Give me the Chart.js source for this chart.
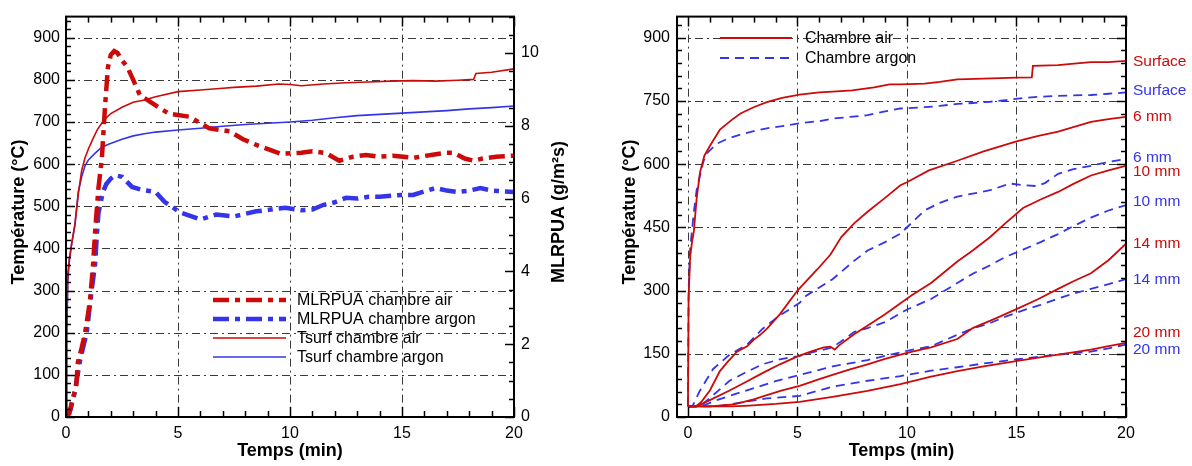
<!DOCTYPE html>
<html><head><meta charset="utf-8">
<script src="https://cdn.jsdelivr.net/npm/chart.js@4.4.1/dist/chart.umd.min.js"></script>
<style>
html,body{margin:0;padding:0;background:#fff;overflow:hidden;}
#wrap{position:relative;width:1192px;height:466px;background:#fff;}
canvas{position:absolute;top:0;}
</style></head><body>
<div id="wrap">
<canvas id="c1" width="590" height="466" style="left:0px"></canvas>
<canvas id="c2" width="602" height="466" style="left:590px"></canvas>
</div>
<script>
// ---------------- DATA: left chart ----------------
const xTickLabels = [0, 5, 10, 15, 20];
const tempTicksLeft = [0, 100, 200, 300, 400, 500, 600, 700, 800, 900];
const mlrTicks = [0, 2, 4, 6, 8, 10];
const tempTicksRight = [0, 150, 300, 450, 600, 750, 900];

const tsurfAirT = [0, 0.03, 0.08, 0.15, 0.25, 0.4, 0.55, 0.7, 0.85, 1.0, 1.2, 1.4, 1.7, 2.0, 2.5, 3.0, 3.5, 4.0, 5.0, 6.0, 7.0, 7.5, 8.5, 9.5, 10.0, 10.5, 11.5, 12.5, 13.5, 14.5, 15.5, 16.5, 17.5, 18.2, 18.3, 19.0, 20.0];
const tsurfAirV = [20, 200, 340, 375, 410, 457, 530, 585, 615, 636, 660, 682, 705, 720, 735, 747, 752, 760, 772, 776, 780, 782, 785, 790, 789, 786, 790, 793, 795, 797, 798, 797, 799, 801, 815, 818, 826];

const tsurfArgonT = [0, 0.03, 0.08, 0.15, 0.25, 0.4, 0.55, 0.7, 0.85, 1.0, 1.3, 1.6, 1.9, 2.5, 3.0, 3.5, 4.0, 5.0, 6.0, 7.0, 8.0, 9.0, 10.0, 11.0, 12.0, 13.0, 14.0, 15.0, 16.0, 17.0, 18.0, 19.0, 20.0];
const tsurfArgonV = [20, 180, 320, 370, 410, 457, 534, 570, 596, 610, 626, 640, 647, 659, 667, 672, 676, 681, 685, 690, 694, 697, 700, 704, 710, 715, 718, 721, 724, 727, 731, 734, 738];

const mlrAirT = [0, 0.15, 0.3, 0.45, 0.53, 0.7, 0.85, 1.0, 1.07, 1.2, 1.3, 1.45, 1.6, 1.74, 1.87, 2.0, 2.15, 2.3, 2.5, 2.75, 2.95, 3.3, 3.9, 4.6, 5.5, 6.4, 7.3, 7.9, 8.6, 9.6, 10.5, 11.0, 11.6, 12.2, 12.8, 13.4, 14.0, 14.6, 15.5, 16.3, 17.0, 17.3, 17.8, 18.2, 18.6, 19.2, 20.0];
const mlrAirV = [0, 0.1, 0.5, 0.8, 1.5, 1.9, 2.3, 2.9, 3.2, 4.1, 5.1, 6.3, 7.1, 8.5, 9.6, 9.95, 10.05, 10.0, 9.8, 9.6, 9.33, 8.84, 8.6, 8.33, 8.25, 7.93, 7.85, 7.63, 7.45, 7.23, 7.26, 7.3, 7.25, 7.04, 7.15, 7.2, 7.15, 7.18, 7.12, 7.2, 7.26, 7.26, 7.1, 7.04, 7.1, 7.15, 7.18];

const mlrArgonT = [0, 0.2, 0.4, 0.62, 0.93, 1.15, 1.3, 1.38, 1.45, 1.55, 1.65, 1.8, 2.0, 2.2, 2.5, 2.95, 3.4, 4.0, 4.4, 5.1, 6.0, 6.7, 7.5, 8.5, 9.8, 10.5, 11.0, 11.5, 12.0, 12.5, 13.0, 13.5, 14.0, 14.5, 15.0, 15.5, 16.0, 16.5, 17.0, 17.5, 18.0, 18.5, 19.0, 19.5, 20.0];
const mlrArgonV = [0, 0.2, 0.73, 1.53, 2.34, 3.5, 4.2, 5.03, 5.6, 5.9, 6.18, 6.4, 6.55, 6.64, 6.6, 6.32, 6.24, 6.18, 5.91, 5.62, 5.43, 5.56, 5.51, 5.65, 5.75, 5.68, 5.7, 5.83, 5.9, 6.02, 6.0, 6.05, 6.05, 6.08, 6.1, 6.1, 6.2, 6.29, 6.22, 6.18, 6.22, 6.29, 6.22, 6.2, 6.18];

// ---------------- DATA: right chart ----------------
const surfAirT = [0, 0.03, 0.1, 0.2, 0.27, 0.4, 0.55, 0.75, 1.0, 1.46, 2.0, 2.4, 3.0, 3.6, 4.3, 5.1, 6.0, 6.6, 7.5, 8.5, 9.2, 9.7, 10.8, 11.5, 12.3, 13.5, 15.0, 15.7, 15.75, 16.9, 17.5, 18.4, 19.2, 20.0];
const surfAirV = [25, 280, 380, 420, 441, 520, 580, 620, 643, 682, 705, 720, 735, 747, 757, 765, 770, 772, 775, 782, 789, 789, 791, 795, 801, 803, 805, 806, 833, 835, 838, 842, 842, 845];
const surfArgonT = [0, 0.03, 0.1, 0.2, 0.27, 0.4, 0.55, 0.7, 0.85, 1.3, 1.8, 2.4, 3.0, 3.6, 4.3, 5.1, 6.0, 6.6, 7.4, 8.2, 9.0, 9.7, 10.8, 11.5, 12.3, 13.0, 13.8, 14.5, 15.3, 16.1, 16.9, 17.6, 18.4, 19.2, 20.0];
const surfArgonV = [25, 300, 400, 450, 487, 540, 573, 605, 625, 648, 660, 670, 678, 685, 690, 697, 702, 708, 712, 716, 725, 732, 735, 738, 743, 745, 748, 752, 757, 760, 762, 763, 764, 767, 770];

const mm6AirT = [0, 0.35, 0.6, 1.0, 1.46, 1.8, 2.24, 2.7, 3.0, 3.3, 3.6, 4.2, 5.0, 5.9, 6.5, 7.0, 7.6, 8.2, 9.0, 9.7, 10.0, 11.0, 12.3, 13.5, 15.0, 16.0, 16.9, 18.4, 19.2, 20.0];
const mm6AirV = [25, 25, 35, 63, 109, 130, 155, 168, 183, 195, 209, 244, 300, 350, 385, 427, 460, 487, 520, 550, 557, 585, 608, 630, 654, 667, 677, 700, 707, 712];
const mm6ArgonT = [0, 0.2, 0.55, 1.15, 1.9, 2.7, 3.4, 4.2, 5.1, 5.4, 6.6, 7.6, 8.2, 9.0, 9.7, 10.2, 10.8, 11.5, 12.3, 13.0, 13.8, 14.7, 15.3, 15.9, 16.3, 16.9, 17.6, 18.4, 19.2, 20.0];
const mm6ArgonV = [25, 25, 63, 114, 148, 172, 209, 241, 271, 288, 327, 371, 395, 415, 435, 460, 490, 508, 523, 530, 538, 554, 550, 548, 555, 577, 588, 596, 605, 612];

const mm10AirT = [0, 0.4, 1.0, 1.9, 2.6, 3.4, 4.2, 5.0, 5.6, 6.2, 6.5, 6.7, 6.9, 7.6, 8.3, 9.0, 10.2, 11.1, 12.3, 13.0, 13.8, 14.5, 15.3, 16.1, 16.9, 17.6, 18.4, 19.2, 20.0];
const mm10AirV = [25, 25, 40, 63, 82, 104, 125, 144, 155, 165, 167, 160, 170, 197, 220, 244, 288, 318, 369, 395, 427, 460, 496, 516, 534, 553, 573, 585, 596];
const mm10ArgonT = [0, 0.55, 1.0, 1.9, 2.6, 3.4, 4.2, 5.0, 5.8, 6.6, 7.6, 8.2, 9.0, 10.0, 11.1, 12.3, 13.0, 13.8, 14.5, 15.3, 16.1, 16.9, 17.6, 18.4, 19.2, 20.0];
const mm10ArgonV = [25, 25, 45, 86, 105, 125, 137, 144, 155, 165, 202, 211, 225, 255, 280, 318, 340, 360, 380, 397, 415, 434, 453, 473, 490, 503];

const mm14AirT = [0, 1.0, 2.1, 3.0, 3.6, 4.3, 5.1, 6.0, 6.6, 7.4, 8.2, 9.0, 10.0, 11.1, 12.3, 13.0, 14.0, 15.05, 16.0, 16.9, 17.6, 18.4, 19.2, 20.0];
const mm14AirV = [25, 25, 30, 42, 52, 63, 74, 90, 100, 113, 125, 138, 152, 165, 185, 211, 233, 257, 280, 304, 322, 341, 372, 411];
const mm14ArgonT = [0, 0.6, 1.3, 2.8, 4.0, 5.1, 6.6, 8.2, 9.0, 10.0, 11.1, 12.3, 13.0, 13.8, 14.5, 15.3, 16.1, 16.9, 17.6, 18.4, 19.2, 20.0];
const mm14ArgonV = [25, 25, 40, 65, 85, 100, 120, 135, 145, 157, 168, 195, 210, 223, 238, 253, 266, 281, 293, 304, 315, 327];

const mm20AirT = [0, 2.0, 2.8, 4.0, 5.1, 6.6, 8.2, 9.7, 11.1, 12.3, 13.5, 15.05, 16.0, 16.9, 18.4, 19.2, 20.0];
const mm20AirV = [25, 25, 27, 31, 36, 48, 62, 78, 96, 109, 120, 133, 141, 148, 160, 168, 176];
const mm20ArgonT = [0, 1.3, 2.5, 3.6, 5.1, 6.6, 8.2, 9.7, 11.1, 12.3, 13.5, 15.05, 16.0, 16.9, 18.4, 19.2, 20.0];
const mm20ArgonV = [25, 25, 35, 44, 50, 72, 86, 97, 110, 118, 127, 137, 143, 148, 155, 163, 172];

const endLabelText = ['Surface', 'Surface', '6 mm', '6 mm', '10 mm', '10 mm', '14 mm', '14 mm', '20 mm', '20 mm'];
const endLabelTemp = [842, 775, 712, 615, 582, 510, 411, 325, 200, 160];

// ---------------- STYLE ----------------
const FONT = '"Liberation Sans", Arial, Helvetica, sans-serif';
const RED = '#cc0a0a';
const BLUE = '#3434ea';
const GRID = '#3a3a3a';
Chart.defaults.font.family = FONT;
Chart.defaults.color = '#000';

function series(label, t, v, color, width, dash, axis) {
  return {
    label, data: t.map((x, i) => ({ x, y: v[i] })),
    borderColor: color, backgroundColor: color, borderWidth: width,
    borderDash: dash, borderCapStyle: 'butt', pointRadius: 0, tension: 0,
    fill: false, yAxisID: axis
  };
}

function setTicks(arr) { return s => { s.ticks = arr.map(v => ({ value: v })); }; }

function line(ctx, x1, y1, x2, y2) { ctx.beginPath(); ctx.moveTo(x1, y1); ctx.lineTo(x2, y2); ctx.stroke(); }

function range(a, b, s) { const r = []; for (let v = a; v <= b + 1e-9; v += s) r.push(+v.toFixed(4)); return r; }

function makeFramePlugin(cfg) {
  return {
    id: 'frame_' + cfg.name,
    beforeDatasetsDraw(chart) {
      const { ctx, chartArea: a } = chart;
      const xs = chart.scales.x, ys = chart.scales.y;
      ctx.save();
      ctx.strokeStyle = GRID; ctx.lineWidth = 1; ctx.setLineDash([8, 4, 2, 4]);
      cfg.vGrid.forEach(v => { const p = Math.round(xs.getPixelForValue(v)) + 0.5; line(ctx, p, a.top, p, a.bottom); });
      cfg.hGrid.forEach(v => { const p = Math.round(ys.getPixelForValue(v)) + 0.5; line(ctx, a.left, p, a.right, p); });
      ctx.restore();
    },
    afterDatasetsDraw(chart) {
      const { ctx, chartArea: a } = chart;
      const xs = chart.scales.x, ys = chart.scales.y;
      ctx.save();
      ctx.setLineDash([]);
      ctx.strokeStyle = '#000';
      ctx.lineWidth = 1.5;
      // x ticks top & bottom
      range(0, 20, 1).forEach(v => {
        const p = Math.round(xs.getPixelForValue(v)) + 0.5;
        const L = (v % 5 === 0) ? 10 : 6;
        line(ctx, p, a.bottom, p, a.bottom - L);
        line(ctx, p, a.top, p, a.top + L);
      });
      // left ticks
      cfg.leftMinor.forEach(v => {
        const p = Math.round(ys.getPixelForValue(v)) + 0.5;
        const L = (v % cfg.leftMajorStep === 0) ? 9 : 5;
        line(ctx, a.left, p, a.left + L, p);
        if (!cfg.rightScale) line(ctx, a.right, p, a.right - L, p);
      });
      if (cfg.rightScale) {
        const rs = chart.scales[cfg.rightScale];
        cfg.rightMinor.forEach(v => {
          const p = Math.round(rs.getPixelForValue(v)) + 0.5;
          const L = (Math.abs(v % cfg.rightMajorStep) < 1e-6) ? 9 : 5;
          line(ctx, a.right, p, a.right - L, p);
        });
      }
      ctx.lineWidth = 2;
      ctx.strokeRect(a.left, a.top, a.right - a.left, a.bottom - a.top);
      ctx.restore();
    }
  };
}

function drawTitle(ctx, text, x, y, rot) {
  ctx.save();
  ctx.translate(x, y);
  if (rot) ctx.rotate(-Math.PI / 2);
  ctx.font = 'bold 18px ' + FONT;
  ctx.fillStyle = '#000';
  ctx.textAlign = 'center';
  ctx.textBaseline = 'middle';
  ctx.fillText(text, 0, 0);
  ctx.restore();
}

function drawLegendRow(ctx, ds, x1, x2, y, tx) {
  ctx.save();
  ctx.strokeStyle = ds.borderColor;
  ctx.lineWidth = ds.borderWidth;
  ctx.lineCap = 'butt';
  ctx.setLineDash(ds.borderDash || []);
  line(ctx, x1, y, x2, y);
  ctx.setLineDash([]);
  ctx.fillStyle = '#000';
  ctx.font = '16px ' + FONT;
  ctx.textAlign = 'left';
  ctx.textBaseline = 'middle';
  ctx.fillText(ds.label, tx, y + 1);
  ctx.restore();
}

// ---------------- LEFT CHART ----------------
const leftData = [
  series('MLRPUA chambre air', mlrAirT, mlrAirV, RED, 4.5, [16, 6, 5, 6], 'y2'),
  series('MLRPUA chambre argon', mlrArgonT, mlrArgonV, BLUE, 4.5, [16, 6, 5, 6], 'y2'),
  series('Tsurf chambre air', tsurfAirT, tsurfAirV, RED, 1.6, [], 'y'),
  series('Tsurf chambre argon', tsurfArgonT, tsurfArgonV, BLUE, 1.6, [], 'y')
];

const leftDeco = {
  id: 'leftDeco',
  afterDraw(chart) {
    const ctx = chart.ctx;
    drawTitle(ctx, 'Température (°C)', 19, 212, true);
    drawTitle(ctx, 'MLRPUA (g/m²s)', 559, 212, true);
    drawTitle(ctx, 'Temps (min)', 290, 451, false);
    const rows = [300, 319, 338, 357];
    chart.data.datasets.forEach((d, i) => drawLegendRow(ctx, d, 213, 286, rows[i], 297));
  }
};

new Chart(document.getElementById('c1'), {
  type: 'line',
  data: { datasets: leftData },
  options: {
    responsive: false, animation: false, devicePixelRatio: 1,
    layout: { padding: { top: 7, left: 0, right: 0, bottom: 0 } },
    plugins: { legend: { display: false }, tooltip: { enabled: false } },
    scales: {
      x: {
        type: 'linear', min: 0, max: 20,
        afterBuildTicks: setTicks(xTickLabels),
        afterFit: s => { s.height = 49; },
        grid: { display: false, drawTicks: false }, border: { display: false },
        ticks: { font: { size: 16 }, padding: 7, color: '#000', maxRotation: 0 }
      },
      y: {
        type: 'linear', position: 'left', min: 0, max: 950,
        afterBuildTicks: setTicks(tempTicksLeft),
        afterFit: s => { s.width = 66; },
        grid: { display: false, drawTicks: false }, border: { display: false },
        ticks: { font: { size: 16 }, padding: 6, color: '#000' }
      },
      y2: {
        type: 'linear', position: 'right', min: 0, max: 11,
        afterBuildTicks: setTicks(mlrTicks),
        afterFit: s => { s.width = 76; },
        grid: { display: false, drawTicks: false }, border: { display: false },
        ticks: { font: { size: 16 }, padding: 7, color: '#000' }
      }
    }
  },
  plugins: [makeFramePlugin({
    name: 'l', vGrid: [5, 10, 15], hGrid: range(100, 900, 100),
    leftMinor: range(0, 940, 20), leftMajorStep: 100,
    rightScale: 'y2', rightMinor: range(0, 11, 0.5), rightMajorStep: 2
  }), leftDeco]
});

// ---------------- RIGHT CHART ----------------
const DASH = [9, 6];
const rightData = [
  series('Chambre air', surfAirT, surfAirV, RED, 1.8, [], 'y'),
  series('Chambre argon', surfArgonT, surfArgonV, BLUE, 1.8, DASH, 'y'),
  series('6 mm air', mm6AirT, mm6AirV, RED, 1.8, [], 'y'),
  series('6 mm argon', mm6ArgonT, mm6ArgonV, BLUE, 1.8, DASH, 'y'),
  series('10 mm air', mm10AirT, mm10AirV, RED, 1.8, [], 'y'),
  series('10 mm argon', mm10ArgonT, mm10ArgonV, BLUE, 1.8, DASH, 'y'),
  series('14 mm air', mm14AirT, mm14AirV, RED, 1.8, [], 'y'),
  series('14 mm argon', mm14ArgonT, mm14ArgonV, BLUE, 1.8, DASH, 'y'),
  series('20 mm air', mm20AirT, mm20AirV, RED, 1.8, [], 'y'),
  series('20 mm argon', mm20ArgonT, mm20ArgonV, BLUE, 1.8, DASH, 'y')
];

const rightDeco = {
  id: 'rightDeco',
  afterDraw(chart) {
    const ctx = chart.ctx;
    const a = chart.chartArea;
    drawTitle(ctx, 'Température (°C)', 40, 212, true);
    drawTitle(ctx, 'Temps (min)', (a.left + a.right) / 2, 451, false);
    drawLegendRow(ctx, chart.data.datasets[0], 130, 202, 38, 215);
    drawLegendRow(ctx, chart.data.datasets[1], 130, 202, 58, 215);
    const ys = chart.scales.y;
    ctx.save();
    ctx.font = '15.5px ' + FONT;
    ctx.textAlign = 'left';
    ctx.textBaseline = 'middle';
    endLabelText.forEach((t, i) => {
      ctx.fillStyle = (i % 2 === 0) ? RED : BLUE;
      ctx.fillText(t, a.right + 7, ys.getPixelForValue(endLabelTemp[i]));
    });
    ctx.restore();
  }
};

new Chart(document.getElementById('c2'), {
  type: 'line',
  data: { datasets: rightData },
  options: {
    responsive: false, animation: false, devicePixelRatio: 1,
    layout: { padding: { top: 7, left: 0, right: 66, bottom: 0 } },
    plugins: { legend: { display: false }, tooltip: { enabled: false } },
    scales: {
      x: {
        type: 'linear', min: -0.5, max: 20,
        afterBuildTicks: setTicks(xTickLabels),
        afterFit: s => { s.height = 49; },
        grid: { display: false, drawTicks: false }, border: { display: false },
        ticks: { font: { size: 16 }, padding: 7, color: '#000', maxRotation: 0 }
      },
      y: {
        type: 'linear', position: 'left', min: 0, max: 950,
        afterBuildTicks: setTicks(tempTicksRight),
        afterFit: s => { s.width = 87; },
        grid: { display: false, drawTicks: false }, border: { display: false },
        ticks: { font: { size: 16 }, padding: 7, color: '#000' }
      }
    }
  },
  plugins: [makeFramePlugin({
    name: 'r', vGrid: [0, 5, 10, 15], hGrid: range(150, 900, 150),
    leftMinor: range(0, 930, 30), leftMajorStep: 150,
    rightScale: null
  }), rightDeco]
});
</script>
</body></html>
